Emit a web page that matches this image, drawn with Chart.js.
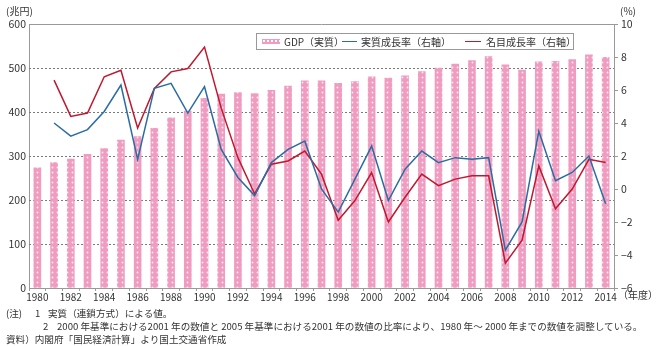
<!DOCTYPE html>
<html>

<head>
    <meta charset="utf-8">
    <title>GDP（実質）と成長率の推移</title>
    <script src="https://cdn.jsdelivr.net/npm/chart.js@4"></script>
    <style>
        body { margin: 0; background: #fff; font-family: 'Noto Sans CJK JP', sans-serif; color: #333; }
        #wrap { position: relative; width: 656px; height: 346px; }
        #chart { position: absolute; left: 0; top: 0; }
        .t { position: absolute; font-size: 10px; white-space: nowrap; line-height: 1; }
        #legend { position: absolute; left: 256px; top: 33px; width: 318px; height: 17px; border: 1px solid #999; background: #fff; box-sizing: border-box; font-size: 10px; }
        #legend span { position: absolute; top: 3px; line-height: 1; white-space: nowrap; }
        .sw { position: absolute; top: 5px; height: 5px; }
        .ln { position: absolute; top: 7px; height: 0; border-top: 1.5px solid; }
        .note { position: absolute; font-size: 9.6px; white-space: nowrap; line-height: 1; }
    </style>
</head>

<body>
    <div id="wrap">
        <canvas id="chart" width="656" height="346"></canvas>
        <div class="t" style="left:6px;top:6px;">(兆円)</div>
        <div class="t" style="left:620px;top:6px;">(%)</div>
        <div class="t" style="left:618px;top:290px;">（年度）</div>
        <div id="legend">
            <div class="sw" style="left:5px;width:18px;background:radial-gradient(circle, #fff 0.7px, transparent 1.1px) 0 0/4px 4px, #f09cc0;"></div>
            <span style="left:27px;">GDP（実質）</span>
            <div class="ln" style="left:85px;width:15px;border-color:#2b6da3;"></div>
            <span style="left:104px;">実質成長率（右軸）</span>
            <div class="ln" style="left:208px;width:16px;border-color:#c0182f;"></div>
            <span style="left:229px;">名目成長率（右軸）</span>
        </div>
        <div class="note" style="left:6px;top:309px;">(注)</div>
        <div class="note" style="left:35px;top:309px;">1</div>
        <div class="note" style="left:48px;top:309px;">実質（連鎖方式）による値。</div>
        <div class="note" style="left:43px;top:322px;">2</div>
        <div class="note" style="left:57px;top:322px;">2000 年基準における2001 年の数値と 2005 年基準における2001 年の数値の比率により、1980 年～ 2000 年までの数値を調整している。</div>
        <div class="note" style="left:6px;top:335px;">資料）内閣府「国民経済計算」より国土交通省作成</div>
    </div>

    <script>
        // 年度
        var years = [];
        for (var y = 1980; y <= 2014; y++) years.push(String(y));

        // GDP（実質、兆円）
        var gdpReal = [273, 285, 293, 304, 317, 336, 344, 363, 387, 402,
            431, 441, 444, 442, 449, 459, 471, 471, 465, 469,
            480, 477, 482, 492, 500, 509, 517, 526, 507, 495,
            514, 515, 519, 530, 524];

        // 実質成長率（%）
        var realGrowth = [null, 4.0, 3.2, 3.6, 4.7, 6.3, 1.8, 6.1, 6.4, 4.6,
            6.2, 2.4, 0.7, -0.4, 1.6, 2.4, 2.9, 0.0, -1.4, 0.6,
            2.6, -0.7, 1.2, 2.3, 1.6, 1.9, 1.8, 1.9, -3.7, -2.0,
            3.5, 0.5, 1.0, 2.0, -0.9];

        // 名目成長率（%）
        var nominalGrowth = [null, 6.6, 4.4, 4.6, 6.8, 7.2, 3.7, 6.1, 7.1, 7.3,
            8.6, 4.9, 1.9, -0.3, 1.5, 1.7, 2.3, 0.9, -1.9, -0.7,
            1.0, -2.0, -0.5, 0.9, 0.2, 0.6, 0.8, 0.8, -4.5, -3.1,
            1.4, -1.2, 0.0, 1.8, 1.6];

        // 左軸・右軸の目盛
        var leftTicks = [0, 100, 200, 300, 400, 500, 600];
        var rightTicks = [-6, -4, -2, 0, 2, 4, 6, 8, 10];

        var ctx = document.getElementById('chart').getContext('2d');

        // 棒グラフ用の水玉模様
        function dotPattern() {
            var c = document.createElement('canvas');
            c.width = 5; c.height = 5;
            var g = c.getContext('2d');
            g.fillStyle = '#f09cc0';
            g.fillRect(0, 0, 5, 5);
            g.fillStyle = 'rgba(255,255,255,0.8)';
            g.beginPath();
            g.arc(2.5, 2.5, 0.9, 0, Math.PI * 2);
            g.fill();
            return ctx.createPattern(c, 'repeat');
        }

        // 左軸の点線グリッド（0 と 600 は枠線なので描かない）と上辺の枠
        var dashedGrid = {
            id: 'dashedGrid',
            beforeDatasetsDraw: function (chart) {
                var a = chart.chartArea, c = chart.ctx, s = chart.scales.yL;
                c.save();
                c.lineWidth = 1;
                c.strokeStyle = '#7a7a7a';
                c.setLineDash([2, 2]);
                leftTicks.slice(1, -1).forEach(function (v) {
                    var py = Math.round(s.getPixelForValue(v)) + 0.5;
                    c.beginPath();
                    c.moveTo(a.left, py);
                    c.lineTo(a.right, py);
                    c.stroke();
                });
                c.setLineDash([]);
                c.strokeStyle = '#999';
                c.beginPath();
                c.moveTo(a.left, Math.round(a.top) + 0.5);
                c.lineTo(a.right, Math.round(a.top) + 0.5);
                c.stroke();
                c.restore();
            }
        };

        Chart.defaults.font.family = "'Noto Sans CJK JP', sans-serif";
        Chart.defaults.color = '#333';

        new Chart(ctx, {
            type: 'bar',
            data: {
                labels: years,
                datasets: [{
                    type: 'line',
                    label: '実質成長率（右軸）',
                    data: realGrowth,
                    yAxisID: 'yR',
                    borderColor: '#2b6da3',
                    borderWidth: 1.5,
                    pointRadius: 0,
                    tension: 0,
                    order: 1
                }, {
                    type: 'line',
                    label: '名目成長率（右軸）',
                    data: nominalGrowth,
                    yAxisID: 'yR',
                    borderColor: '#c0182f',
                    borderWidth: 1.5,
                    pointRadius: 0,
                    tension: 0,
                    order: 2
                }, {
                    label: 'GDP（実質）',
                    data: gdpReal,
                    yAxisID: 'yL',
                    backgroundColor: dotPattern(),
                    barThickness: 7,
                    order: 3
                }]
            },
            options: {
                responsive: false,
                animation: false,
                layout: { padding: { top: 24 } },
                plugins: {
                    legend: { display: false },
                    tooltip: { enabled: false }
                },
                scales: {
                    x: {
                        afterFit: function (s) { s.height = 58; },
                        grid: { drawOnChartArea: false, drawTicks: true, tickLength: 3, color: '#999' },
                        border: { color: '#999' },
                        ticks: {
                            autoSkip: false,
                            maxRotation: 0,
                            padding: 0,
                            font: { size: 10 },
                            callback: function (v, i) { return i % 2 === 0 ? years[i] : ''; }
                        }
                    },
                    yL: {
                        position: 'left',
                        min: leftTicks[0],
                        max: leftTicks[leftTicks.length - 1],
                        afterFit: function (s) { s.width = 29; },
                        grid: { drawOnChartArea: false, drawTicks: false },
                        border: { color: '#999' },
                        ticks: { stepSize: leftTicks[1] - leftTicks[0], padding: 3, font: { size: 10.5 } }
                    },
                    yR: {
                        position: 'right',
                        min: rightTicks[0],
                        max: rightTicks[rightTicks.length - 1],
                        afterFit: function (s) { s.width = 42; },
                        grid: { drawOnChartArea: false, drawTicks: true, tickLength: 4, color: '#999' },
                        border: { color: '#999' },
                        ticks: {
                            stepSize: rightTicks[1] - rightTicks[0],
                            padding: 3,
                            font: { size: 10.5 },
                            callback: function (v) { return String(v).replace('-', '\u2212'); }
                        }
                    }
                }
            },
            plugins: [dashedGrid]
        });
    </script>
</body>

</html>
